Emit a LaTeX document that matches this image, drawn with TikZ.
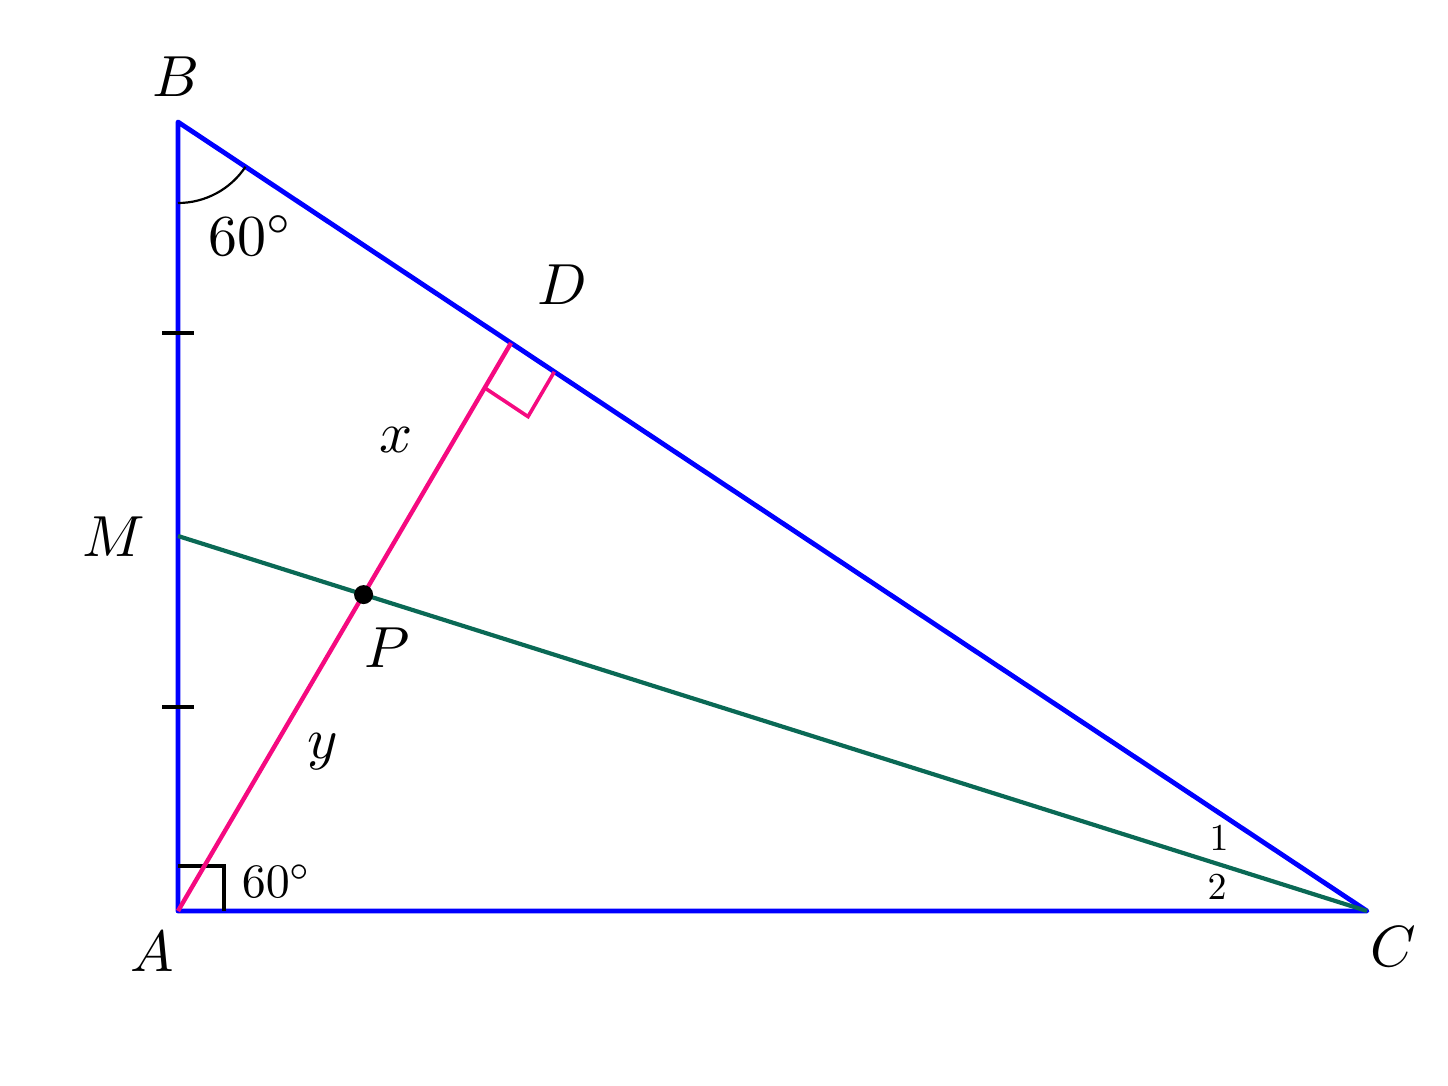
\documentclass[tikz,border=0pt]{standalone}
\usetikzlibrary{calc,angles}
\definecolor{tblue}{RGB}{0,0,255}
\definecolor{tpink}{RGB}{245,10,128}
\definecolor{tgreen}{RGB}{10,105,85}
\begin{document}
\begin{tikzpicture}[x=0.5pt,y=-0.5pt,
  side/.style={tblue, line width=2.4pt, line join=round},
  medline/.style={tgreen, line width=2.1pt},
  altline/.style={tpink, line width=2.2pt},
  rmarkpink/.style={tpink, line width=1.8pt},
  rmarkblack/.style={black, line width=1.6pt},
  tickline/.style={black, line width=1.6pt},
  lbl/.style={scale=2.9, inner sep=0pt},
  midlbl/.style={scale=2.4, inner sep=0pt},
  smlbl/.style={scale=1.9, inner sep=0pt}]
\useasboundingbox (0,0) rectangle (1448,1086);
\coordinate (A) at (178,911);
\coordinate (B) at (178,122);
\coordinate (C) at (1367,911);
\coordinate (M) at (178,536);
\coordinate (D) at (511,343);
\coordinate (P) at (intersection of A--D and M--C);
\coordinate (T1) at (178,333);
\coordinate (T2) at (178,707);
% triangle
\draw[side] (A) -- (B) -- (C) -- cycle;
% right angle at A
\draw[rmarkblack] ($(A)+(0,-45)$) -| ($(A)+(46,0)$);
% ticks
\draw[tickline] ($(T1)+(-16,0)$) -- ($(T1)+(16,0)$);
\draw[tickline] ($(T2)+(-16,0)$) -- ($(T2)+(16,0)$);
% angle at B
\pic[draw, line width=1.1pt, angle radius=40.5pt] {angle=A--B--C};
% median
\draw[medline] (M) -- (C);
% line from A to D
\draw[altline] (A) -- (D);
\coordinate (D1) at ($(D)!26pt!(A)$);
\coordinate (D2) at ($(D)!26pt!(C)$);
\draw[rmarkpink, line join=miter] (D1) -- ($(D1)+(D2)-(D)$) -- (D2);
% point P
\node[circle, fill=black, inner sep=0pt, minimum size=9.5pt] (Pdot) at (P) {};
% labels
\node[lbl] (lB) at (176,77) {$B$};
\node[lbl] (lD) at (562,285) {$D$};
\node[lbl] (lM) at (114,537) {$M$};
\node[lbl] (lP) at (387,648) {$P$};
\node[lbl] (lx) at (396,440) {$x$};
\node[lbl] (ly) at (323,752) {$y$};
\node[lbl] (lA) at (152,952) {$A$};
\node[lbl] (lC) at (1393,947) {$C$};
\node[lbl] (lB60) at (251,236) {$60^\circ$};
\node[midlbl] (lA60) at (277,881) {$60^\circ$};
\node[smlbl] (l1) at (1219,838) {$1$};
\node[smlbl] (l2) at (1217,887) {$2$};
\end{tikzpicture}
\end{document}
